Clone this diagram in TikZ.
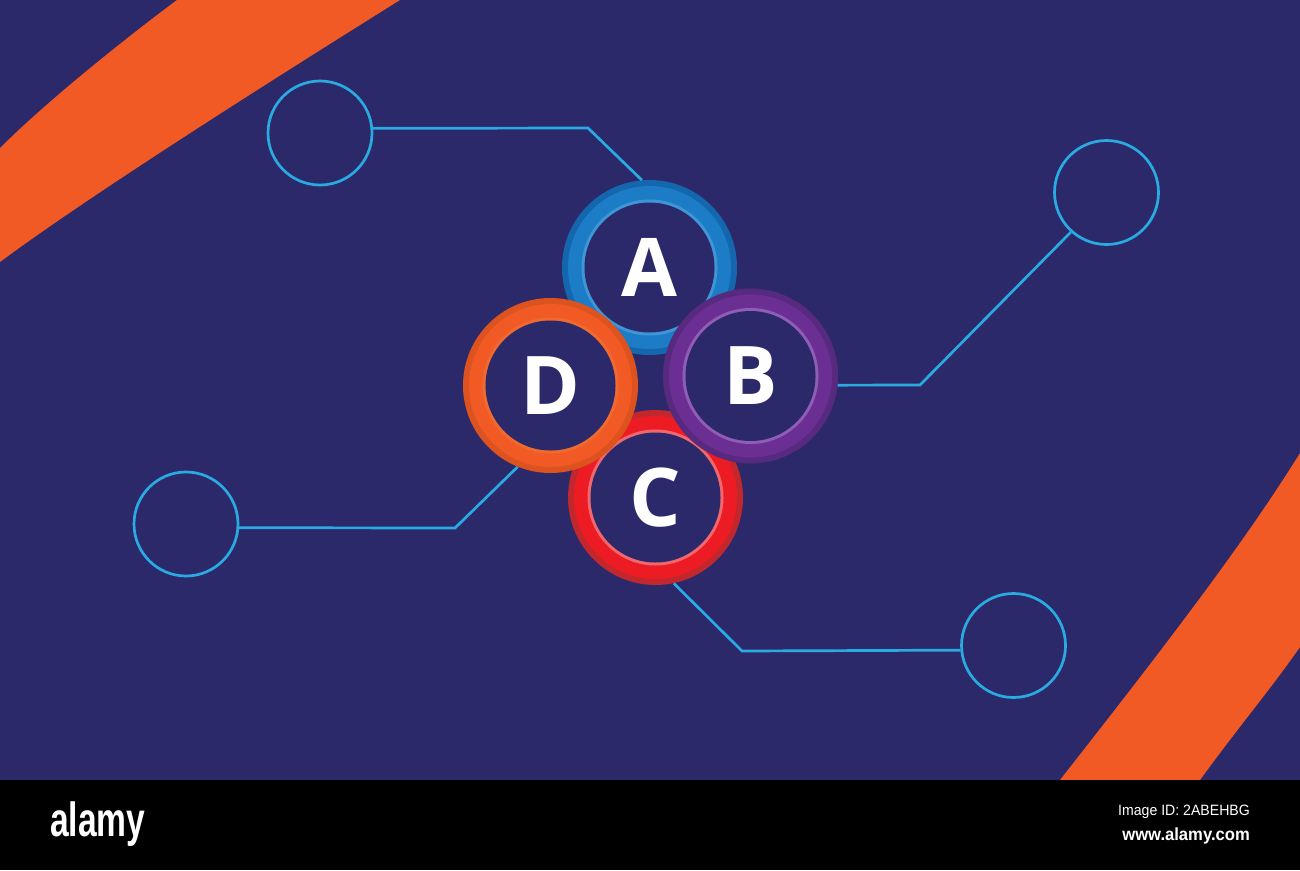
\documentclass[tikz,border=0pt]{standalone}
\usepackage{fontspec}
\setmainfont{Open Sans}
\newfontfamily\libsans{Liberation Sans}
\definecolor{navy}{HTML}{2C296B}
\definecolor{bandorange}{HTML}{F15A24}
\definecolor{linecyan}{HTML}{29ABE2}
\definecolor{aDark}{HTML}{1466AE}
\definecolor{aMain}{HTML}{1C7CC6}
\definecolor{aLight}{HTML}{3F96D6}
\definecolor{bDark}{HTML}{57297F}
\definecolor{bMain}{HTML}{6B2F93}
\definecolor{bLight}{HTML}{8E5DB5}
\definecolor{cDark}{HTML}{C1272D}
\definecolor{cMain}{HTML}{ED1C24}
\definecolor{cLight}{HTML}{F0686E}
\definecolor{dDark}{HTML}{DC531F}
\definecolor{dMain}{HTML}{F15A24}
\definecolor{dLight}{HTML}{F06A30}
\tikzset{
  ring/.style n args={3}{circle, minimum size=175pt, inner sep=0pt, fill=#1,
    text=white, font=\bfseries\fontsize{81}{81}\selectfont,
    path picture={
      \fill[#2] (path picture bounding box.center) circle[radius=81.5pt];
      \fill[#3] (path picture bounding box.center) circle[radius=68pt];
      \fill[navy] (path picture bounding box.center) circle[radius=65pt];}},
  hole/.style={circle, draw=linecyan, line width=2.7pt, minimum size=104pt, inner sep=0pt},
  link/.style={draw=linecyan, line width=2.7pt, line join=miter},
  band/.style={fill=bandorange},
}
\begin{document}
\begin{tikzpicture}[x=1pt,y=-1pt]
\useasboundingbox (0,0) rectangle (1300,870);
\fill[navy] (0,0) rectangle (1300,780);
% orange bands
\path[band] (0,148) .. controls (40,108) and (110,50) .. (177,0)
  -- (400,0) .. controls (280,75) and (90,195) .. (0,262) -- cycle;
\path[band] (1300,453) .. controls (1240,550) and (1150,665) .. (1060,780)
  -- (1200,780) .. controls (1240,725) and (1270,690) .. (1300,647) -- cycle;
% outline circles
\node[hole] (tl) at (320,133) {};
\node[hole] (tr) at (1106.5,192.5) {};
\node[hole] (bl) at (186,524) {};
\node[hole] (br) at (1013.5,645.5) {};
% rings
\node[ring={aDark}{aMain}{aLight}] (A) at (649.5,267.5) {A};
\node[ring={cDark}{cMain}{cLight}] (C) at (655.5,497.5) {C};
\node[ring={dDark}{dMain}{dLight}] (D) at (550.5,385.5) {D};
\node[ring={bDark}{bMain}{bLight}] (B) at (750.5,376) {B};
% connectors
\coordinate (k1) at (588,128);
\coordinate (k2) at (920,385);
\coordinate (k3) at (455,528);
\coordinate (k4) at (742,651);
\draw[link] (tl.5) -- (k1) -- (A.95);
\draw[link] (B.-6) -- (k2) -- (tr.228);
\draw[link] (bl.-4) -- (k3) -- (D.248);
\draw[link] (C.-78) -- (k4) -- (br.185);
% bottom bar
\fill[black] (0,780) rectangle (1300,870);
\node[font=\libsans\bfseries\fontsize{48}{48}\selectfont, text=white, xscale=0.7, transform shape, anchor=west, inner sep=0pt] (logo) at (50,824) {alamy};
\node[font=\libsans\fontsize{15}{15}\selectfont, text=white, xscale=0.94, transform shape, anchor=east, inner sep=0pt] (imgid) at (1250,812) {Image ID: 2ABEHBG};
\node[font=\libsans\bfseries\fontsize{17.5}{17.5}\selectfont, text=white, xscale=0.95, transform shape, anchor=east, inner sep=0pt] (url) at (1250,836) {www.alamy.com};
\end{tikzpicture}
\end{document}
